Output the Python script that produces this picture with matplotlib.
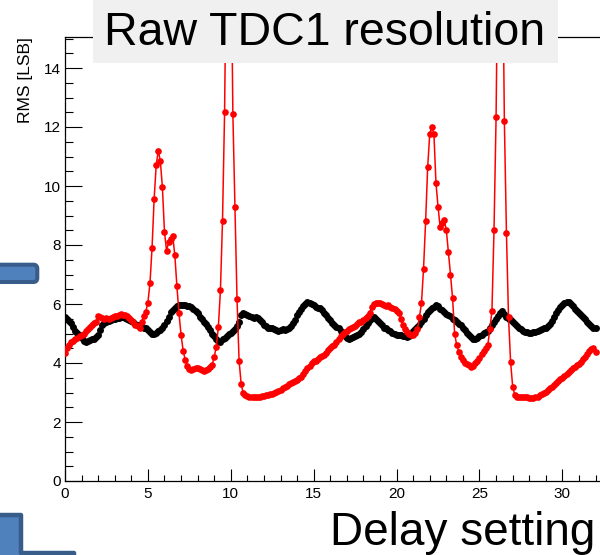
import numpy as np
import matplotlib
matplotlib.use("Agg")
import matplotlib.pyplot as plt
from matplotlib.patches import Rectangle, FancyBboxPatch, Polygon

# ---------------- data ----------------
delay_step = 0.125   # delay setting granularity
black_rms = [
    5.55, 5.50, 5.42, 5.34, 5.22, 5.10, 5.02, 4.95,
    4.85, 4.76, 4.72, 4.74, 4.78, 4.80, 4.82, 4.88,
    4.95, 5.12, 5.30, 5.36, 5.40, 5.44, 5.46, 5.48,
    5.50, 5.52, 5.54, 5.57, 5.55, 5.52, 5.48, 5.46,
    5.42, 5.38, 5.33, 5.29, 5.26, 5.22, 5.18, 5.17,
    5.12, 5.05, 5.00, 4.98, 5.02, 5.08, 5.12, 5.18,
    5.30, 5.42, 5.55, 5.72, 5.80, 5.86, 5.92, 5.96,
    5.97, 5.98, 5.96, 5.94, 5.92, 5.90, 5.82, 5.76,
    5.68, 5.55, 5.48, 5.40, 5.32, 5.23, 5.12, 5.00,
    4.90, 4.82, 4.76, 4.72, 4.80, 4.86, 4.92, 4.97,
    5.02, 5.08, 5.15, 5.25, 5.40, 5.62, 5.70, 5.66,
    5.63, 5.60, 5.56, 5.52, 5.55, 5.51, 5.45, 5.38,
    5.29, 5.24, 5.20, 5.18, 5.17, 5.15, 5.12, 5.10,
    5.12, 5.14, 5.12, 5.15, 5.17, 5.25, 5.34, 5.45,
    5.63, 5.72, 5.82, 5.92, 6.00, 6.08, 6.05, 6.00,
    5.95, 5.90, 5.86, 5.85, 5.78, 5.70, 5.62, 5.52,
    5.45, 5.36, 5.28, 5.22, 5.17, 5.10, 5.00, 4.92,
    4.84, 4.82, 4.85, 4.88, 4.92, 4.96, 5.00, 5.05,
    5.15, 5.25, 5.35, 5.45, 5.52, 5.57, 5.50, 5.42,
    5.35, 5.28, 5.20, 5.17, 5.12, 5.08, 5.02, 4.98,
    4.95, 4.96, 4.94, 4.92, 4.90, 4.89, 4.92, 5.00,
    5.08, 5.15, 5.22, 5.30, 5.40, 5.50, 5.62, 5.72,
    5.80, 5.86, 5.91, 5.96, 5.92, 5.84, 5.78, 5.72,
    5.66, 5.62, 5.58, 5.50, 5.45, 5.40, 5.33, 5.29,
    5.20, 5.12, 5.02, 4.95, 4.88, 4.82, 4.80, 4.84,
    4.90, 4.96, 5.02, 5.06, 5.10, 5.18, 5.28, 5.38,
    5.50, 5.60, 5.70, 5.75, 5.65, 5.56, 5.50, 5.46,
    5.40, 5.32, 5.26, 5.20, 5.15, 5.10, 5.06, 5.04,
    5.03, 5.02, 5.04, 5.06, 5.10, 5.12, 5.15, 5.18,
    5.20, 5.25, 5.32, 5.42, 5.55, 5.68, 5.80, 5.90,
    5.98, 6.04, 6.08, 6.06, 6.00, 5.92, 5.82, 5.75,
    5.70, 5.64, 5.56, 5.48, 5.40, 5.32, 5.25, 5.20,
    5.17,
]
red_rms = [
    4.33, 4.50, 4.62, 4.70, 4.76, 4.82, 4.86, 4.90,
    4.95, 5.00, 5.08, 5.16, 5.22, 5.28, 5.34, 5.40,
    5.58, 5.56, 5.52, 5.50, 5.52, 5.50, 5.54, 5.56,
    5.58, 5.60, 5.62, 5.66, 5.64, 5.62, 5.58, 5.52,
    5.45, 5.38, 5.30, 5.24, 5.17, 5.40, 5.58, 5.74,
    6.05, 6.70, 7.90, 9.55, 10.70, 11.20, 10.85, 9.95,
    8.45, 7.80, 8.10, 8.20, 8.30, 7.65, 6.60, 5.68,
    4.95, 4.42, 4.10, 3.90, 3.80, 3.76, 3.78, 3.84,
    3.82, 3.80, 3.76, 3.74, 3.76, 3.80, 3.86, 3.93,
    4.21, 4.55, 5.23, 6.47, 8.82, 12.50, 19.0, 23.0,
    19.0, 12.43, 9.30, 6.16, 4.07, 3.29, 2.98, 2.92,
    2.88, 2.86, 2.86, 2.85, 2.86, 2.85, 2.86, 2.87,
    2.88, 2.90, 2.92, 2.94, 2.96, 2.99, 3.02, 3.06,
    3.10, 3.14, 3.18, 3.22, 3.28, 3.32, 3.36, 3.40,
    3.44, 3.48, 3.54, 3.62, 3.72, 3.82, 3.90, 4.00,
    4.06, 4.08, 4.14, 4.20, 4.24, 4.28, 4.35, 4.45,
    4.50, 4.56, 4.62, 4.70, 4.80, 4.90, 4.98, 5.06,
    5.10, 5.14, 5.18, 5.22, 5.26, 5.32, 5.38, 5.40,
    5.45, 5.52, 5.60, 5.70, 5.90, 6.00, 6.02, 6.02,
    6.02, 6.00, 5.96, 5.94, 5.95, 5.90, 5.86, 5.82,
    5.76, 5.70, 5.50, 5.30, 5.15, 5.05, 4.98, 4.95,
    4.96, 5.02, 5.15, 5.55, 6.02, 7.20, 8.80, 10.65,
    11.77, 12.00, 11.77, 10.10, 9.30, 8.60, 8.75, 8.85,
    8.50, 7.75, 7.00, 6.20, 5.00, 4.60, 4.38, 4.21,
    4.10, 4.00, 3.96, 3.92, 3.88, 3.90, 3.99, 4.08,
    4.16, 4.30, 4.40, 4.50, 4.61, 5.15, 5.76, 8.50,
    12.34, 19.0, 23.0, 19.0, 12.20, 8.40, 5.55, 4.04,
    3.20, 2.92, 2.86, 2.85, 2.84, 2.85, 2.86, 2.84,
    2.82, 2.80, 2.80, 2.84, 2.86, 2.90, 2.94, 2.98,
    3.03, 3.08, 3.14, 3.20, 3.26, 3.32, 3.40, 3.46,
    3.50, 3.56, 3.62, 3.70, 3.76, 3.82, 3.88, 3.94,
    3.98, 4.05, 4.14, 4.21, 4.30, 4.40, 4.46, 4.50,
    4.38,
]
x_ticks = [0, 5, 10, 15, 20, 25, 30]
y_ticks = [0, 2, 4, 6, 8, 10, 12, 14]
title_text = "Raw TDC1 resolution"
ylabel_text = "RMS [LSB]"
xlabel_text = "Delay setting"

delay = np.arange(len(black_rms)) * delay_step

# ---------------- figure ----------------
W, H = 600, 555
fig = plt.figure(figsize=(W / 100, H / 100), dpi=100)
fig.patch.set_facecolor("white")

ax_l, ax_b = 65, 481          # pixel positions of axes origin (from top for b)
px_per_x = 16.58
px_per_y = 29.5
xmax = 32.4
ymax = (ax_b - 37) / px_per_y
ax = fig.add_axes([ax_l / W, (H - ax_b) / H, xmax * px_per_x / W,
                   ymax * px_per_y / H])
ax.set_xlim(0, xmax)
ax.set_ylim(0, ymax)

ax.plot(delay, black_rms, linestyle="none", marker="o", markersize=5.0,
        markeredgewidth=0, color="black", zorder=3)
ax.plot(delay, red_rms, linestyle="-", linewidth=1.1, marker="o",
        markersize=4.8, markeredgewidth=0, color="#ff0000", zorder=4)

ax.set_xticks(x_ticks)
ax.set_yticks(y_ticks)
ax.set_xticks(np.arange(0, 33, 1), minor=True)
ax.set_yticks(np.arange(0, 15.01, 0.5), minor=True)
ax.tick_params(axis="both", which="both", direction="in", width=0.8,
               colors="black", labelsize=11, top=False, right=False)
ax.tick_params(axis="x", which="major", length=9, pad=4.5)
ax.tick_params(axis="x", which="minor", length=4.5)
ax.tick_params(axis="y", which="major", length=12, pad=3)
ax.tick_params(axis="y", which="minor", length=6)
for lab in ax.get_xticklabels() + ax.get_yticklabels():
    lab.set_fontfamily("Liberation Sans")
ax.spines["right"].set_visible(False)
for s in ("left", "bottom", "top"):
    ax.spines[s].set_linewidth(0.9)

# y axis label (ROOT style, aligned with top of axis)
fig.text(25.5 / W, (H - 37) / H, ylabel_text, rotation=90, ha="center",
         va="top", fontsize=12.5, family="Liberation Sans")

# title box
fig.add_artist(Rectangle((93 / W, (H - 63) / H), (558 - 93) / W, 63 / H + 0.01,
                         transform=fig.transFigure, facecolor="#f0f0f0",
                         edgecolor="none", zorder=5))
fig.text(325 / W, (H - 45) / H, title_text, ha="center", va="baseline",
         fontsize=33.5, family="Liberation Sans", zorder=6)

# x label (slide text)
fig.text(595 / W, (H - 545) / H, xlabel_text, ha="right", va="baseline",
         fontsize=33, family="Liberation Sans", zorder=6)

# blue slide shapes at left
fill_c, edge_c = "#4f81bd", "#385d8a"
fig.add_artist(FancyBboxPatch((-0.30, (H - 282) / 100), 0.673,
                              (282 - 264.7) / 100,
                              boxstyle="round,pad=0,rounding_size=0.04",
                              transform=fig.dpi_scale_trans,
                              facecolor=fill_c, edgecolor=edge_c,
                              linewidth=2.9, zorder=5))
pts = np.array([(-10, 515.2), (21, 515.2), (21, 552.5), (74, 552.5),
                (74, 575), (-10, 575)])
fig.add_artist(Polygon(np.column_stack([pts[:, 0] / 100, (H - pts[:, 1]) / 100]),
                       closed=True, transform=fig.dpi_scale_trans,
                       facecolor=fill_c, edgecolor=edge_c, linewidth=3.2,
                       joinstyle="round", zorder=5))

fig.savefig("out.png", dpi=100)
